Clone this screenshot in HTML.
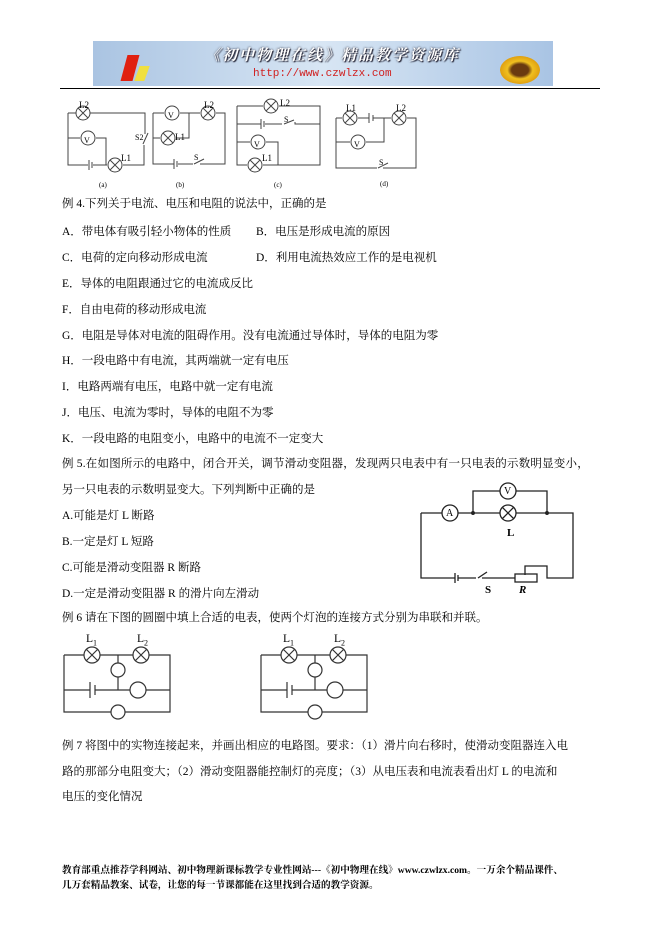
<!DOCTYPE html>
<html><head><meta charset="utf-8"><style>
body{margin:0;width:661px;height:936px;background:#fff;position:relative;overflow:hidden;font-family:"Liberation Serif","Noto Serif CJK SC","Noto Sans CJK SC",serif;color:#000}
.t{position:absolute;font-size:11.5px;white-space:nowrap;line-height:14px}
.f{position:absolute;font-size:9.6px;white-space:nowrap;font-weight:bold;left:62px}
svg{position:absolute;left:0;top:0}
</style></head><body>
<div style="position:absolute;left:93px;top:41px;width:460px;height:45px;background:linear-gradient(90deg,#aac4e2,#d8e6f4 50%,#a9c4e4)"></div>
<div style="position:absolute;left:124px;top:55px;width:12px;height:26px;background:#e02010;transform:skewX(-15deg)"></div>
<div style="position:absolute;left:137px;top:66px;width:10px;height:15px;background:#f0e040;transform:skewX(-20deg)"></div>
<div style="position:absolute;left:500px;top:56px;width:40px;height:28px;border-radius:50%;background:radial-gradient(#6a3a10 30%,#f0c020 45%,#e0a010 70%,transparent 72%)"></div>
<div class="t" style="left:205px;top:49px;font-size:15px;color:#fff;font-weight:bold;letter-spacing:2px;font-style:italic;text-shadow:0 0 2px #223,1px 1px 1px #223">《初中物理在线》精品教学资源库</div>
<div class="t" style="left:253px;top:67px;font-size:11px;color:#d02020;font-family:'Liberation Mono',monospace">http://www.czwlzx.com</div>
<div style="position:absolute;left:60px;top:88px;width:540px;height:1px;background:#000"></div>

<svg width="661" height="936" fill="none" stroke="#444" stroke-width="1">
<path d="M68 113H145V134M144 145V165H123M107 165H93M88 165H68V113M68 138H80M96 138H106V165"/>
<line x1="143" y1="144" x2="148" y2="133"/>
<line x1="89" y1="160" x2="89" y2="170"/><line x1="92" y1="162" x2="92" y2="168"/>
<path d="M153 113H164M180 113H200M216 113H225V164H200M193 164H178M174 164H153V113M153 138H160M176 138H189V113"/>
<line x1="194" y1="164" x2="204" y2="159"/>
<line x1="174" y1="159" x2="174" y2="169"/><line x1="177" y1="161" x2="177" y2="167"/>
<path d="M237 106H263M279 106H320V165H263M247 165H237V106M237 124H261M265 124H282M295 122V124H320M237 142H250M266 142H278V165"/>
<line x1="284" y1="124" x2="294" y2="120"/>
<line x1="261" y1="119" x2="261" y2="129"/><line x1="264" y1="121" x2="264" y2="127"/>
<path d="M336 118H342M358 118H369M373 118H391M407 118H416V168H383M377 168H336V118M336 142H350M366 142H384V118"/>
<line x1="378" y1="168" x2="388" y2="163"/>
<line x1="369" y1="113" x2="369" y2="123"/><line x1="373" y1="115" x2="373" y2="121"/>
<g stroke="#222" stroke-width="1.3">
<path d="M421 513H442M458 513H500M516 513H573V578H547V566H525V575M515 578H482M476 578H458M455 578H421V513M473 513V491H500M516 491H547V513"/>
<line x1="478" y1="578" x2="487" y2="572"/>
<rect x="515" y="574" width="22" height="8"/>
<line x1="455" y1="573" x2="455" y2="583"/><line x1="458" y1="575" x2="458" y2="581"/>
<circle cx="473" cy="513" r="1.3" fill="#222"/><circle cx="547" cy="513" r="1.3" fill="#222"/>
<circle cx="450" cy="513" r="8"/><circle cx="508" cy="491" r="8"/><circle cx="508" cy="513" r="8"/>
<path d="M502 507L514 519M514 507L502 519"/>
</g>
<g stroke="#333" stroke-width="1.2" id="e6">
<path d="M64 655H84M100 655H133M149 655H170V712H125M111 712H64V655M118 655V663M118 677V690M64 690H90M95 690H130M146 690H170"/>
<line x1="90" y1="682" x2="90" y2="698"/><line x1="95" y1="685" x2="95" y2="695"/>
<circle cx="92" cy="655" r="8"/><circle cx="141" cy="655" r="8"/>
<path d="M86 649L98 661M98 649L86 661M135 649L147 661M147 649L135 661"/>
<circle cx="118" cy="670" r="7"/><circle cx="138" cy="690" r="8"/><circle cx="118" cy="712" r="7"/>
</g>
<use href="#e6" x="197"/>
</svg>
<svg width="661" height="936" fill="#fff" stroke="#444">
<g>
<circle cx="83" cy="113" r="7"/><circle cx="88" cy="138" r="7"/><circle cx="115" cy="165" r="7"/>
<circle cx="172" cy="113" r="7"/><circle cx="208" cy="113" r="7"/><circle cx="168" cy="138" r="7"/>
<circle cx="271" cy="106" r="7"/><circle cx="258" cy="142" r="7"/><circle cx="255" cy="165" r="7"/>
<circle cx="350" cy="118" r="7"/><circle cx="399" cy="118" r="7"/><circle cx="358" cy="142" r="7"/>
</g>
<path fill="none" d="M78 108l10 10m0-10l-10 10M110 160l10 10m0-10l-10 10M203 108l10 10m0-10l-10 10M163 133l10 10m0-10l-10 10M266 101l10 10m0-10l-10 10M250 160l10 10m0-10l-10 10M345 113l10 10m0-10l-10 10M394 113l10 10m0-10l-10 10"/>
</svg>
<div class="t" style="font-size:8px;left:84px;top:134px">V</div><div class="t" style="font-size:8px;left:168px;top:109px">V</div><div class="t" style="font-size:8px;left:254px;top:138px">V</div><div class="t" style="font-size:8px;left:354px;top:138px">V</div>
<div class="t" style="font-size:9px;left:79px;top:98px">L2</div><div class="t" style="font-size:9px;left:121px;top:151px">L1</div><div class="t" style="font-size:8px;left:135px;top:131px">S2</div>
<div class="t" style="font-size:9px;left:204px;top:98px">L2</div><div class="t" style="font-size:9px;left:175px;top:130px">L1</div><div class="t" style="font-size:8px;left:194px;top:151px">S</div>
<div class="t" style="font-size:9px;left:280px;top:96px">L2</div><div class="t" style="font-size:9px;left:262px;top:151px">L1</div><div class="t" style="font-size:8px;left:284px;top:113px">S</div>
<div class="t" style="font-size:9px;left:346px;top:101px">L1</div><div class="t" style="font-size:9px;left:396px;top:101px">L2</div><div class="t" style="font-size:8px;left:379px;top:156px">S</div>
<div class="t" style="font-size:7px;left:99px;top:178px">(a)</div><div class="t" style="font-size:7px;left:176px;top:178px">(b)</div><div class="t" style="font-size:7px;left:274px;top:178px">(c)</div><div class="t" style="font-size:7px;left:380px;top:177px">(d)</div>
<div class="t" style="font-size:10px;left:446px;top:507px">A</div><div class="t" style="font-size:10px;left:504px;top:485px">V</div>
<div class="t" style="font-size:11px;left:507px;top:526px;font-weight:bold">L</div><div class="t" style="font-size:11px;left:485px;top:583px;font-weight:bold">S</div><div class="t" style="font-size:11px;left:519px;top:583px;font-weight:bold;font-style:italic">R</div>
<div class="t" style="left:86px;top:632px">L<sub style="font-size:8px">1</sub></div><div class="t" style="left:137px;top:632px">L<sub style="font-size:8px">2</sub></div>
<div class="t" style="left:283px;top:632px">L<sub style="font-size:8px">1</sub></div><div class="t" style="left:334px;top:632px">L<sub style="font-size:8px">2</sub></div>

<div class="t" style="left:62px;top:197px">例 4.下列关于电流、电压和电阻的说法中，正确的是</div>
<div class="t" style="left:62px;top:225px">A．带电体有吸引轻小物体的性质</div><div class="t" style="left:256px;top:225px">B．电压是形成电流的原因</div>
<div class="t" style="left:62px;top:251px">C．电荷的定向移动形成电流</div><div class="t" style="left:256px;top:251px">D．利用电流热效应工作的是电视机</div>
<div class="t" style="left:62px;top:277px">E．导体的电阻跟通过它的电流成反比</div>
<div class="t" style="left:62px;top:303px">F．自由电荷的移动形成电流</div>
<div class="t" style="left:62px;top:329px">G．电阻是导体对电流的阻碍作用。没有电流通过导体时，导体的电阻为零</div>
<div class="t" style="left:62px;top:354px">H．一段电路中有电流，其两端就一定有电压</div>
<div class="t" style="left:62px;top:380px">I．电路两端有电压，电路中就一定有电流</div>
<div class="t" style="left:62px;top:406px">J．电压、电流为零时，导体的电阻不为零</div>
<div class="t" style="left:62px;top:432px">K．一段电路的电阻变小，电路中的电流不一定变大</div>
<div class="t" style="left:62px;top:457px;letter-spacing:0.2px">例 5.在如图所示的电路中，闭合开关，调节滑动变阻器，发现两只电表中有一只电表的示数明显变小，</div>
<div class="t" style="left:62px;top:483px">另一只电表的示数明显变大。下列判断中正确的是</div>
<div class="t" style="left:62px;top:509px">A.可能是灯 L 断路</div>
<div class="t" style="left:62px;top:535px">B.一定是灯 L 短路</div>
<div class="t" style="left:62px;top:561px">C.可能是滑动变阻器 R 断路</div>
<div class="t" style="left:62px;top:587px">D.一定是滑动变阻器 R 的滑片向左滑动</div>
<div class="t" style="left:62px;top:611px">例 6 请在下图的圆圈中填上合适的电表，使两个灯泡的连接方式分别为串联和并联。</div>
<div class="t" style="left:62px;top:739px">例 7 将图中的实物连接起来，并画出相应的电路图。要求：（1）滑片向右移时，使滑动变阻器连入电</div>
<div class="t" style="left:62px;top:765px">路的那部分电阻变大；（2）滑动变阻器能控制灯的亮度；（3）从电压表和电流表看出灯 L 的电流和</div>
<div class="t" style="left:62px;top:790px">电压的变化情况</div>
<div class="f" style="top:862px">教育部重点推荐学科网站、初中物理新课标教学专业性网站---《初中物理在线》www.czwlzx.com。一万余个精品课件、</div>
<div class="f" style="top:877px">几万套精品教案、试卷，让您的每一节课都能在这里找到合适的教学资源。</div>
</body></html>
